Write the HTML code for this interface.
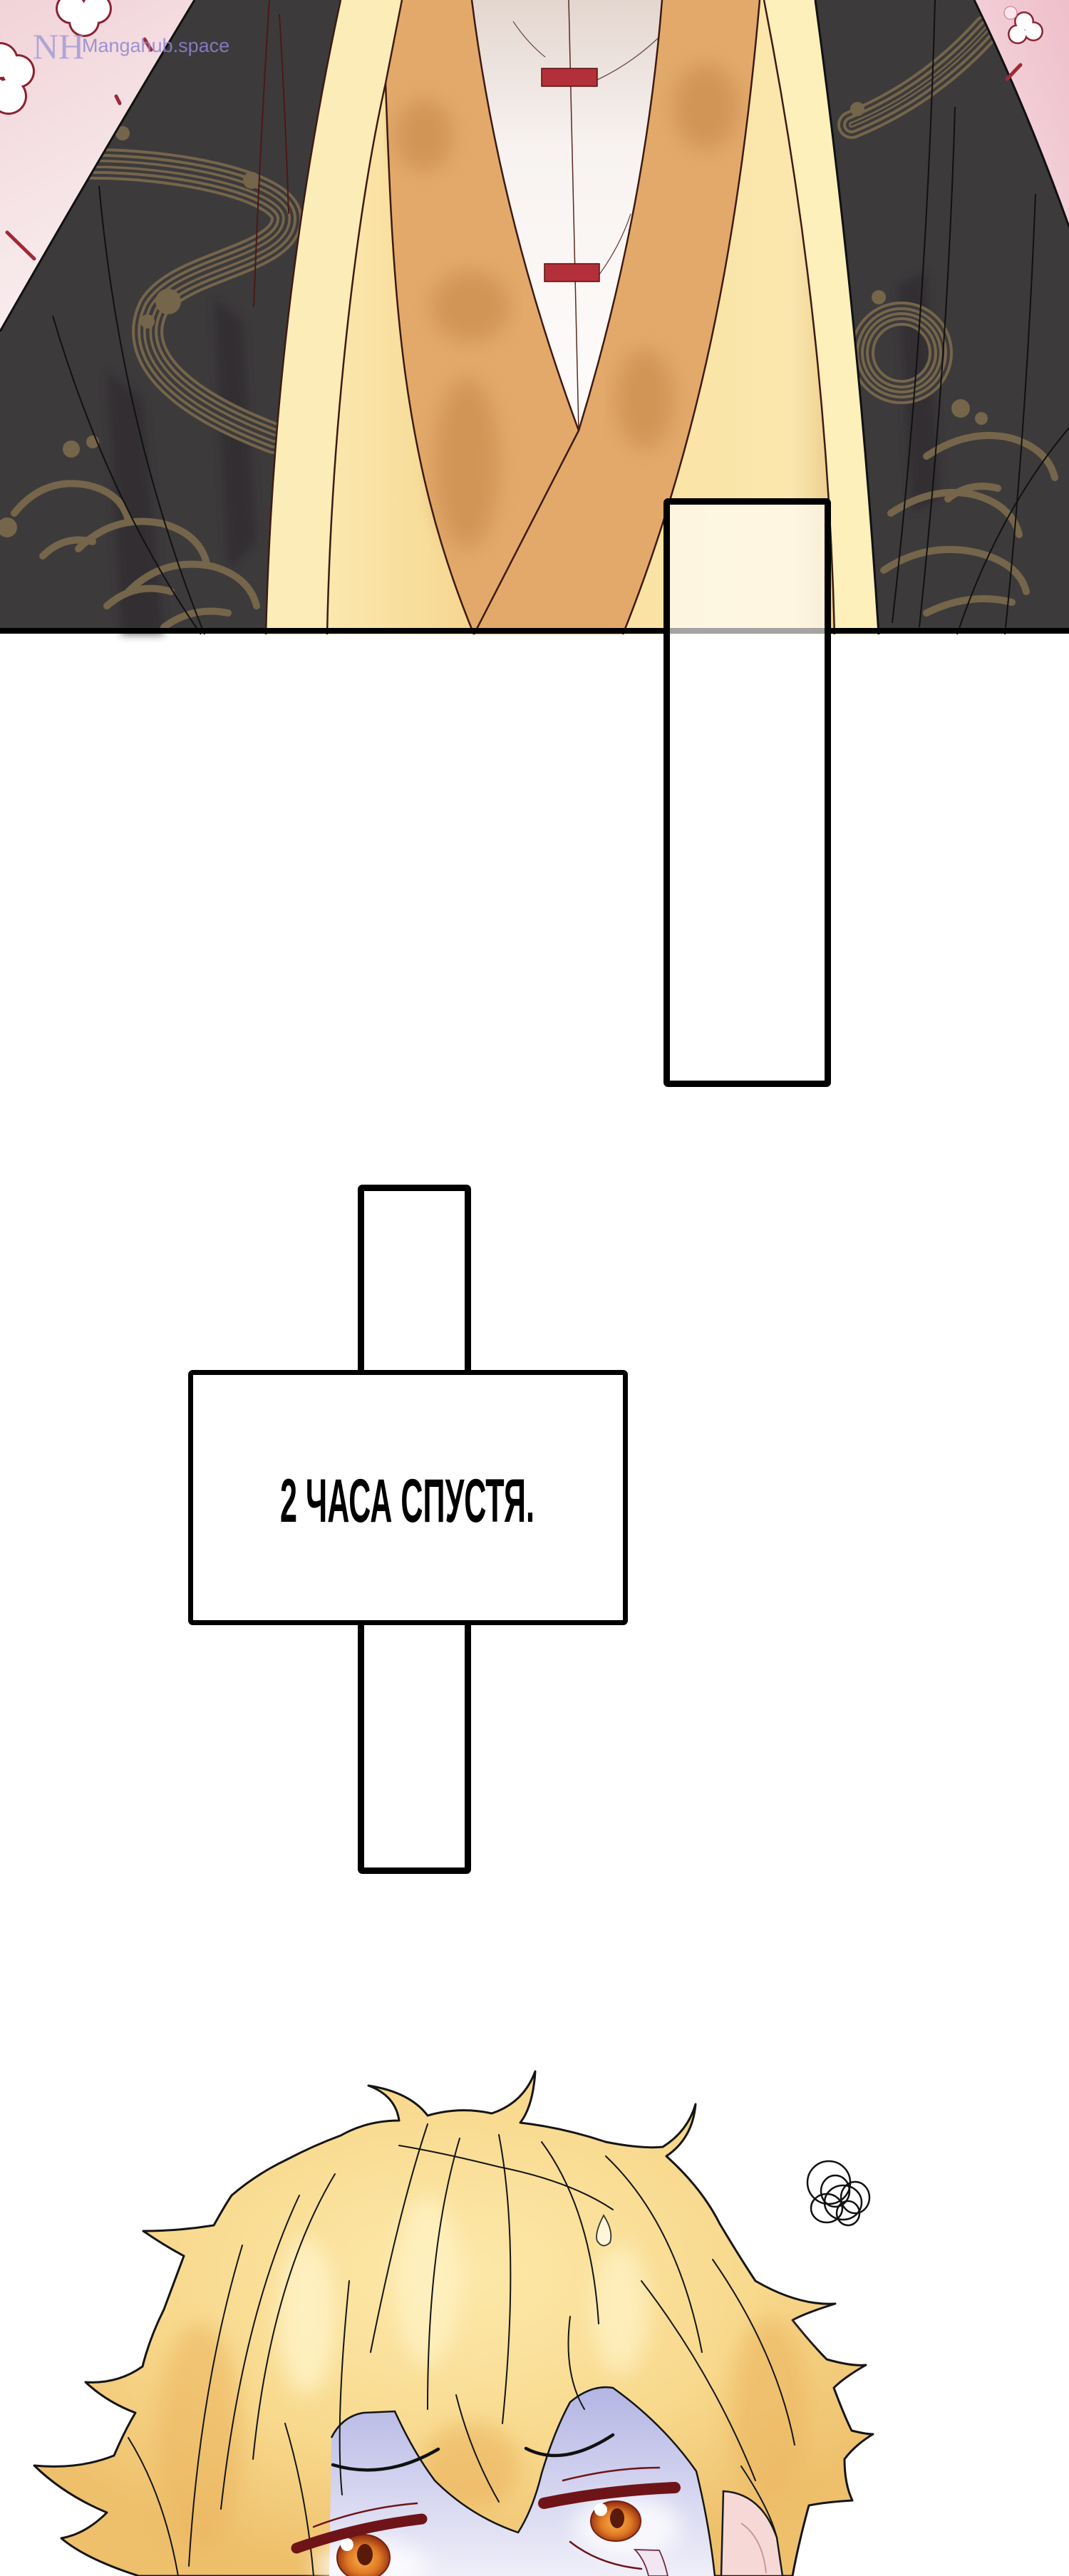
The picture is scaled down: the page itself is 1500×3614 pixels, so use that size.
<!DOCTYPE html>
<html><head><meta charset="utf-8">
<style>
html,body{margin:0;padding:0;background:#fff;}
body{width:1500px;height:3614px;overflow:hidden;}
svg{display:block;}
</style></head>
<body>
<svg width="1500" height="3614" viewBox="0 0 1500 3614" xmlns="http://www.w3.org/2000/svg">
<defs>
  <linearGradient id="pinkL" x1="0" y1="0" x2="0.3" y2="1">
    <stop offset="0" stop-color="#f1d3d8"/><stop offset="1" stop-color="#f9eff0"/>
  </linearGradient>
  <linearGradient id="pinkR" x1="1" y1="0" x2="0" y2="1">
    <stop offset="0" stop-color="#eebfcb"/><stop offset="1" stop-color="#f6dce2"/>
  </linearGradient>
  <linearGradient id="shirt" x1="0" y1="0" x2="0" y2="1">
    <stop offset="0" stop-color="#e4d6cf"/><stop offset="0.35" stop-color="#f8f3f1"/><stop offset="1" stop-color="#fefcfb"/>
  </linearGradient>
  <linearGradient id="midL" x1="0" y1="0" x2="1" y2="0">
    <stop offset="0" stop-color="#fbe8ae"/><stop offset="1" stop-color="#f6d690"/>
  </linearGradient>
  <linearGradient id="midR" x1="0" y1="0" x2="1" y2="0">
    <stop offset="0" stop-color="#f9e2a2"/><stop offset="0.8" stop-color="#fbe7ad"/><stop offset="1" stop-color="#ebcb8c"/>
  </linearGradient>
  <radialGradient id="hairG" cx="0.5" cy="0.4" r="0.6">
    <stop offset="0" stop-color="#fde9ab"/><stop offset="0.6" stop-color="#f8d98d"/><stop offset="1" stop-color="#eec06c"/>
  </radialGradient>
  <linearGradient id="faceG" x1="0" y1="0" x2="0" y2="1">
    <stop offset="0" stop-color="#b3b5e4"/><stop offset="0.6" stop-color="#d8d8f1"/><stop offset="1" stop-color="#efeef9"/>
  </linearGradient>
  <radialGradient id="irisG" cx="0.5" cy="0.55" r="0.55">
    <stop offset="0" stop-color="#f7b24a"/><stop offset="0.55" stop-color="#e07a25"/><stop offset="1" stop-color="#8e2a12"/>
  </radialGradient>
  <filter id="blur12"><feGaussianBlur stdDeviation="14"/></filter>
  <filter id="blur6"><feGaussianBlur stdDeviation="6"/></filter>
</defs>

<!-- ============ TOP PANEL ============ -->
<rect x="0" y="0" width="1500" height="885" fill="#3d3a3c"/>
<g fill="#2f2c2f" opacity="0.7" filter="url(#blur6)">
  <path d="M150 520 L200 560 L230 890 L170 890 Z"/>
  <path d="M300 420 L340 450 L360 760 L320 800 Z"/>
  <path d="M1260 400 L1300 380 L1320 700 L1280 720 Z"/>
</g>
<g fill="none" stroke-linecap="round">
  <g>
    <path d="M118 230 C 250 228, 400 262, 402 305 C 405 365, 250 372, 215 432 C 185 495, 240 560, 385 615" stroke="#75654a" stroke-width="44"/>
    <path d="M118 230 C 250 228, 400 262, 402 305 C 405 365, 250 372, 215 432 C 185 495, 240 560, 385 615" stroke="#3d3a3c" stroke-width="36"/>
    <path d="M118 230 C 250 228, 400 262, 402 305 C 405 365, 250 372, 215 432 C 185 495, 240 560, 385 615" stroke="#75654a" stroke-width="28"/>
    <path d="M118 230 C 250 228, 400 262, 402 305 C 405 365, 250 372, 215 432 C 185 495, 240 560, 385 615" stroke="#3d3a3c" stroke-width="20"/>
    <path d="M118 230 C 250 228, 400 262, 402 305 C 405 365, 250 372, 215 432 C 185 495, 240 560, 385 615" stroke="#75654a" stroke-width="12"/>
    <path d="M118 230 C 250 228, 400 262, 402 305 C 405 365, 250 372, 215 432 C 185 495, 240 560, 385 615" stroke="#3d3a3c" stroke-width="5"/>
  </g>
  <g>
    <path d="M1195 175 C 1280 140, 1340 90, 1385 40" stroke="#75654a" stroke-width="40"/>
    <path d="M1195 175 C 1280 140, 1340 90, 1385 40" stroke="#3d3a3c" stroke-width="32"/>
    <path d="M1195 175 C 1280 140, 1340 90, 1385 40" stroke="#75654a" stroke-width="24"/>
    <path d="M1195 175 C 1280 140, 1340 90, 1385 40" stroke="#3d3a3c" stroke-width="16"/>
    <path d="M1195 175 C 1280 140, 1340 90, 1385 40" stroke="#75654a" stroke-width="8"/>
    <path d="M1195 175 C 1280 140, 1340 90, 1385 40" stroke="#3d3a3c" stroke-width="3"/>
  </g>
  <g>
    <ellipse cx="1265" cy="495" rx="55" ry="55" stroke="#75654a" stroke-width="34"/>
    <ellipse cx="1265" cy="495" rx="55" ry="55" stroke="#3d3a3c" stroke-width="26"/>
    <ellipse cx="1265" cy="495" rx="55" ry="55" stroke="#75654a" stroke-width="18"/>
    <ellipse cx="1265" cy="495" rx="55" ry="55" stroke="#3d3a3c" stroke-width="10"/>
    <ellipse cx="1265" cy="495" rx="55" ry="55" stroke="#75654a" stroke-width="4"/>
  </g>
  <g stroke-width="10" stroke="#75654a">
    <path d="M20 720 Q 60 670 120 680 Q 170 690 180 730"/>
    <path d="M110 770 Q 160 720 230 735 Q 280 750 290 790"/>
    <path d="M180 830 Q 230 780 300 795 Q 350 810 360 850"/>
    <path d="M60 780 Q 90 750 130 760"/>
    <path d="M150 850 Q 190 815 240 830"/>
    <path d="M230 880 Q 270 850 320 860"/>
  </g>
  <g stroke-width="10" stroke="#75654a">
    <path d="M1300 640 Q 1360 600 1420 615 Q 1470 630 1480 670"/>
    <path d="M1250 720 Q 1310 680 1370 695 Q 1420 710 1430 750"/>
    <path d="M1240 800 Q 1300 760 1370 775 Q 1430 790 1440 830"/>
    <path d="M1330 700 Q 1360 675 1400 685"/>
    <path d="M1300 860 Q 1360 830 1420 845"/>
  </g>
</g>
<g fill="#75654a">
  <circle cx="172" cy="187" r="10"/><circle cx="353" cy="253" r="12"/>
  <circle cx="236" cy="423" r="18"/><circle cx="207" cy="451" r="10"/>
  <circle cx="100" cy="630" r="12"/><circle cx="130" cy="620" r="9"/>
  <circle cx="1203" cy="153" r="10"/><circle cx="1233" cy="417" r="10"/>
  <circle cx="1348" cy="573" r="13"/><circle cx="1377" cy="587" r="9"/>
  <circle cx="10" cy="740" r="14"/>
</g>
<g fill="none" stroke="#111" stroke-width="2">
  <path d="M74 443 Q 150 700 282 890"/>
  <path d="M139 261 Q 170 600 287 890"/>
  <path d="M1312 0 Q 1300 450 1252 874"/>
  <path d="M1453 272 Q 1440 600 1410 890"/>
  <path d="M1500 600 Q 1400 720 1343 890"/>
  <path d="M1340 150 Q 1330 500 1290 880"/>
</g>
<g fill="none" stroke="#4a1a16" stroke-width="2">
  <path d="M378 0 Q 365 200 356 431"/>
  <path d="M392 20 Q 400 150 405 300"/>
</g>

<!-- pink corners -->
<path d="M0 0 L273 0 Q 140 220 0 465 Z" fill="url(#pinkL)"/>
<path d="M273 0 Q 140 220 0 465" fill="none" stroke="#111" stroke-width="3"/>
<path d="M1367 0 L1500 0 L1500 318 Q 1440 150 1367 0 Z" fill="url(#pinkR)"/>
<path d="M1367 0 Q 1440 150 1500 318" fill="none" stroke="#111" stroke-width="3"/>
<g stroke="#a02a34" stroke-width="5" stroke-linecap="round">
  <line x1="10" y1="326" x2="48" y2="363"/>
  <line x1="203" y1="55" x2="212" y2="70"/>
  <line x1="1432" y1="91" x2="1413" y2="111"/>
  <line x1="163" y1="135" x2="168" y2="145"/>
</g>
<g fill="#8c2232">
  <circle cx="100" cy="12" r="22"/><circle cx="135" cy="12" r="22"/><circle cx="118" cy="30" r="22"/>
  <circle cx="0" cy="85" r="26"/><circle cx="25" cy="100" r="24"/><circle cx="12" cy="135" r="26"/><circle cx="-10" cy="130" r="24"/>
  <circle cx="1437" cy="30" r="14"/><circle cx="1450" cy="44" r="14"/><circle cx="1428" cy="48" r="14"/>
</g>
<g fill="#ffffff">
  <circle cx="100" cy="12" r="19"/><circle cx="135" cy="12" r="19"/><circle cx="118" cy="30" r="19"/>
  <circle cx="0" cy="85" r="23"/><circle cx="25" cy="100" r="21"/><circle cx="12" cy="135" r="23"/><circle cx="-10" cy="130" r="21"/>
  <circle cx="1437" cy="30" r="11.5"/><circle cx="1450" cy="44" r="11.5"/><circle cx="1428" cy="48" r="11.5"/>
</g>
<circle cx="1418" cy="18" r="9" fill="#fbe8ee" stroke="#d98fa0" stroke-width="1.5"/>

<!-- left collar -->
<path d="M478 0 L564 0 L541 117 C 500 300, 465 600, 459 890 L373 890 Q 385 430 478 0 Z" fill="#fcedb8"/>
<path d="M541 117 C 500 300, 465 600, 459 890 L665 890 C 562 640, 552 420, 541 117 Z" fill="url(#midL)"/>
<path d="M564 0 L662 0 Q 700 300 812 604 L665 890 C 562 640, 552 420, 541 117 Z" fill="#e2a96a"/>
<g filter="url(#blur12)" fill="#cf9253" opacity="0.85">
  <ellipse cx="595" cy="190" rx="40" ry="50"/>
  <ellipse cx="660" cy="430" rx="55" ry="50"/>
  <ellipse cx="655" cy="650" rx="45" ry="120"/>
</g>
<!-- white shirt -->
<path d="M662 0 L929 0 Q 905 300 812 604 Q 700 300 662 0 Z" fill="url(#shirt)"/>
<path d="M798 0 L812 604" stroke="#5a2a20" stroke-width="1.5" fill="none"/>
<path d="M838 112 Q 885 90 925 52" stroke="#6e4a44" stroke-width="1.3" fill="none"/>
<path d="M841 385 Q 870 345 885 300" stroke="#6e4a44" stroke-width="1.3" fill="none"/>
<path d="M765 80 Q 740 60 720 30" stroke="#6e4a44" stroke-width="1.2" fill="none"/>
<rect x="760" y="96" width="78" height="25" fill="#b3303a" stroke="#5a1010" stroke-width="1.5"/>
<rect x="764" y="370" width="77" height="25" fill="#b3303a" stroke="#5a1010" stroke-width="1.5"/>
<!-- right lapel -->
<path d="M929 0 L1066 0 C 1040 300, 990 600, 874 890 L665 890 L812 604 Q 905 300 929 0 Z" fill="#e2a96a"/>
<g filter="url(#blur12)" fill="#cf9253" opacity="0.85">
  <ellipse cx="990" cy="150" rx="45" ry="60"/>
  <ellipse cx="905" cy="560" rx="40" ry="70"/>
</g>
<!-- right collar -->
<path d="M1066 0 L1072 0 Q 1160 450 1171 890 L874 890 C 990 600, 1040 300, 1066 0 Z" fill="url(#midR)"/>
<path d="M1072 0 L1144 0 Q 1205 450 1233 890 L1171 890 Q 1160 450 1072 0 Z" fill="#fdf0bb"/>
<g fill="none" stroke="#3e1a12" stroke-width="2.5">
  <path d="M478 0 Q 385 430 373 890"/>
  <path d="M564 0 L541 117 C 500 300, 465 600, 459 890"/>
  <path d="M541 117 C 552 420, 562 640, 665 890"/>
  <path d="M662 0 Q 700 300 812 604 L665 890"/>
  <path d="M929 0 Q 905 300 812 604"/>
  <path d="M1066 0 C 1040 300, 990 600, 874 890"/>
  <path d="M1072 0 Q 1160 450 1171 890"/>
</g>
<path d="M1144 0 Q 1205 450 1233 890" fill="none" stroke="#111" stroke-width="3"/>
<!-- watermark -->
<text x="46" y="82" font-family="'Liberation Serif',serif" font-size="50" fill="#a59ad8" opacity="0.85">NH</text>
<text x="115" y="73" font-family="'Liberation Sans',sans-serif" font-size="27" fill="#8f86cf" opacity="0.85">Mangahub.space</text>

<rect x="0" y="881" width="1500" height="8" fill="#000"/>

<!-- ============ CAPTION BOXES ============ -->
<rect x="935.5" y="703.5" width="226" height="817" rx="2" fill="#ffffff" fill-opacity="0.64" stroke="#000" stroke-width="9"/>
<rect x="506.5" y="1666.5" width="150" height="958" rx="2" fill="#fff" stroke="#000" stroke-width="9"/>
<rect x="267.5" y="1925.5" width="610" height="351" rx="3" fill="#fff" stroke="#000" stroke-width="7"/>
<text x="393" y="2135" font-family="'Liberation Sans Narrow','Liberation Sans',sans-serif" font-weight="bold" font-size="86" textLength="357" lengthAdjust="spacingAndGlyphs" fill="#000">2 ЧАСА СПУСТЯ.</text>

<!-- ============ CHARACTER ============ -->
<path d="M478 2996 Q 515 2975 560 2975 Q 555 2940 517 2926 Q 575 2935 600 2968 Q 645 2955 690 2965 Q 735 2950 751 2906 Q 748 2955 730 2978 Q 790 2985 850 3005 Q 900 3015 930 3012 Q 965 2990 976 2952 Q 972 3000 935 3025 Q 985 3070 1010 3120 Q 1040 3170 1060 3200 Q 1120 3235 1172 3232 Q 1130 3245 1112 3255 Q 1140 3290 1160 3310 Q 1195 3320 1215 3318 Q 1185 3335 1170 3350 Q 1185 3390 1195 3410 Q 1215 3415 1225 3415 Q 1200 3430 1185 3450 Q 1185 3485 1196 3508 Q 1160 3510 1135 3515 Q 1120 3570 1112 3614 L 195 3614 Q 120 3590 86 3561 Q 120 3555 150 3525 Q 90 3500 48 3459 Q 110 3465 160 3445 Q 175 3410 190 3385 Q 150 3370 120 3342 Q 165 3345 200 3320 Q 210 3280 230 3240 Q 245 3200 258 3165 Q 230 3150 201 3130 Q 250 3130 300 3122 Q 315 3095 325 3080 Q 360 3050 402 3030 Q 440 3010 478 2996 Z" fill="url(#hairG)" stroke="#151515" stroke-width="3" stroke-linejoin="round"/>
<g filter="url(#blur12)">
  <ellipse cx="280" cy="3420" rx="60" ry="160" fill="#ebb560" opacity="0.6"/>
  <ellipse cx="1080" cy="3380" rx="55" ry="130" fill="#ebb560" opacity="0.6"/>
  <ellipse cx="660" cy="3460" rx="70" ry="60" fill="#e9ae5a" opacity="0.55"/>
  <ellipse cx="430" cy="3250" rx="40" ry="110" fill="#fff4c8" opacity="0.8"/>
  <ellipse cx="600" cy="3200" rx="45" ry="120" fill="#fff4c8" opacity="0.7"/>
  <ellipse cx="870" cy="3240" rx="40" ry="90" fill="#fff4c8" opacity="0.7"/>
</g>
<path d="M1015 3495 Q 1068 3498 1090 3560 L 1098 3614 L 1012 3614 Z" fill="#f6d9d6" stroke="#1a1a1a" stroke-width="2.5"/>
<path d="M1040 3540 Q 1070 3560 1075 3610" fill="none" stroke="#c99a98" stroke-width="2"/>
<path d="M462 3614 L 465 3420 Q 480 3390 510 3385 L 554 3383 Q 580 3440 610 3480 Q 660 3530 727 3553 Q 748 3520 760 3470 Q 778 3410 800 3370 Q 830 3345 860 3350 Q 930 3400 977 3467 Q 995 3540 1003 3614 Z" fill="url(#faceG)"/>
<g filter="url(#blur12)" fill="#ffffff" opacity="0.75">
  <ellipse cx="520" cy="3600" rx="80" ry="35"/>
  <ellipse cx="880" cy="3545" rx="75" ry="45"/>
</g>
<path d="M465 3420 Q 480 3390 510 3385 L 554 3383 Q 580 3440 610 3480 Q 660 3530 727 3553 Q 748 3520 760 3470 Q 778 3410 800 3370 Q 830 3345 860 3350 Q 930 3400 977 3467 Q 995 3540 1003 3614" fill="none" stroke="#151515" stroke-width="2.5"/>
<g fill="none" stroke="#151515" stroke-width="2" stroke-linecap="round">
  <path d="M600 2980 Q 560 3100 520 3300"/>
  <path d="M645 3000 Q 600 3150 600 3380"/>
  <path d="M700 2995 Q 730 3150 705 3400"/>
  <path d="M760 3005 Q 830 3100 840 3260"/>
  <path d="M850 3025 Q 950 3120 985 3300"/>
  <path d="M470 3050 Q 380 3200 355 3450"/>
  <path d="M420 3080 Q 340 3250 310 3520"/>
  <path d="M340 3150 Q 280 3350 265 3600"/>
  <path d="M900 3200 Q 1000 3330 1060 3480"/>
  <path d="M1000 3170 Q 1090 3300 1115 3430"/>
  <path d="M560 3010 Q 620 3020 700 3040 Q 800 3060 860 3100"/>
  <path d="M490 3200 Q 470 3400 480 3500"/>
  <path d="M640 3360 Q 660 3440 700 3510"/>
  <path d="M800 3250 Q 790 3330 820 3380"/>
  <path d="M180 3420 Q 230 3500 250 3614"/>
  <path d="M400 3400 Q 430 3500 440 3614"/>
  <path d="M1040 3460 Q 1080 3520 1090 3560"/>
</g>
<g fill="none" stroke="#111" stroke-width="4.5" stroke-linecap="round">
  <path d="M467 3458 Q 540 3480 615 3436"/>
  <path d="M738 3435 Q 790 3462 860 3416"/>
</g>
<ellipse cx="510" cy="3588" rx="37" ry="32" fill="url(#irisG)" stroke="#7a2010" stroke-width="2"/>
<ellipse cx="512" cy="3584" rx="11" ry="15" fill="#5a1a0a"/>
<circle cx="487" cy="3570" r="9" fill="#fff"/>
<ellipse cx="864" cy="3537" rx="35" ry="28" fill="url(#irisG)" stroke="#7a2010" stroke-width="2"/>
<ellipse cx="866" cy="3533" rx="10" ry="14" fill="#5a1a0a"/>
<circle cx="843" cy="3521" r="9" fill="#fff"/>
<g fill="none" stroke="#6e1418" stroke-linecap="round">
  <path d="M416 3575 Q 500 3545 592 3534" stroke-width="15"/>
  <path d="M440 3545 Q 510 3518 585 3512" stroke-width="2.5"/>
  <path d="M763 3512 Q 850 3494 947 3490" stroke-width="16"/>
  <path d="M790 3480 Q 860 3462 925 3462" stroke-width="2.5"/>
  <path d="M800 3566 Q 840 3598 900 3604" stroke-width="2.5"/>
</g>
<path d="M891 3577 Q 905 3592 910 3614 L 937 3614 Q 932 3592 925 3578 Z" fill="#f1e6f2" stroke="#6e2a3a" stroke-width="1.8"/>
<path d="M847 3108 Q 834 3133 838 3144 Q 846 3156 856 3146 Q 861 3130 847 3108 Z" fill="#fff6d8" stroke="#333" stroke-width="1.8"/>
<g fill="none" stroke="#111" stroke-width="2.5">
  <ellipse cx="1163" cy="3062" rx="30" ry="30"/>
  <ellipse cx="1172" cy="3074" rx="20" ry="22"/>
  <ellipse cx="1183" cy="3090" rx="26" ry="24"/>
  <ellipse cx="1160" cy="3098" rx="22" ry="20"/>
  <ellipse cx="1200" cy="3083" rx="20" ry="22"/>
  <ellipse cx="1190" cy="3105" rx="16" ry="17"/>
</g>
</svg>
</body></html>
